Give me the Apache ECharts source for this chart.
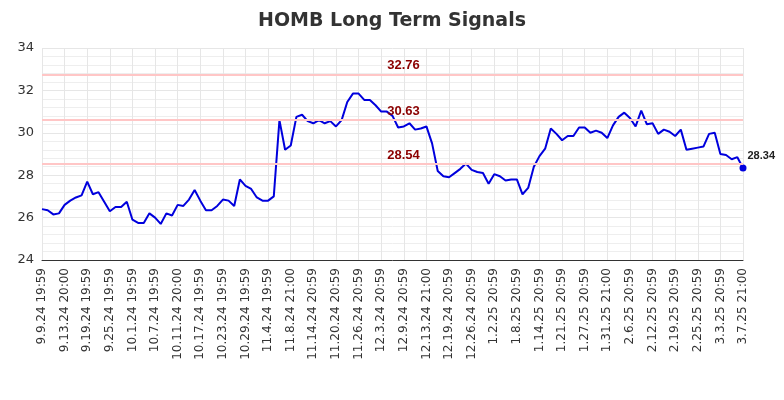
<!doctype html>
<meta charset="utf-8">
<style>
  html, body { margin: 0; padding: 0; width: 100%; height: 100%; }
  #chart { width: 784px; height: 400px; }
</style>
<script src="https://cdn.jsdelivr.net/npm/echarts@6/dist/echarts.min.js"></script>
<div id="chart"></div>
<script>
  const tickLabels = ['9.9.24 19:59','9.13.24 20:00','9.19.24 19:59','9.25.24 19:59','10.1.24 19:59','10.7.24 19:59','10.11.24 20:00','10.17.24 19:59','10.23.24 19:59','10.29.24 19:59','11.4.24 19:59','11.8.24 21:00','11.14.24 20:59','11.20.24 20:59','11.26.24 20:59','12.3.24 20:59','12.9.24 20:59','12.13.24 21:00','12.19.24 20:59','12.26.24 20:59','1.2.25 20:59','1.8.25 20:59','1.14.25 20:59','1.21.25 20:59','1.27.25 20:59','1.31.25 21:00','2.6.25 20:59','2.12.25 20:59','2.19.25 20:59','2.25.25 20:59','3.3.25 20:59','3.7.25 21:00'];
  const prices = [
    26.4,26.35,26.15,26.2, 26.6,26.8,26.95,27.05, 27.7,27.1,27.2,26.75, 26.3,26.5,26.5,26.75,
    25.9,25.75,25.75,26.2, 26.0,25.7,26.2,26.1, 26.6,26.55,26.85,27.3, 26.8,26.35,26.35,26.55,
    26.85,26.8,26.55,27.8, 27.5,27.35,26.95,26.8, 26.8,27.0,30.6,29.2, 29.4,30.75,30.85,30.55,
    30.45,30.6,30.45,30.55, 30.3,30.6,31.45,31.85, 31.85,31.55,31.55,31.3, 31.0,31.0,30.8,30.25,
    30.3,30.45,30.15,30.2, 30.3,29.5,28.2,27.95, 27.9,28.1,28.3,28.55, 28.25,28.15,28.1,27.6,
    28.05,27.95,27.75,27.8, 27.8,27.1,27.4,28.4, 28.9,29.25,30.2,29.95, 29.65,29.85,29.85,30.25,
    30.25,30.0,30.1,30.0, 29.75,30.35,30.75,30.95, 30.7,30.3,31.05,30.4, 30.45,29.95,30.15,30.05,
    29.85,30.15,29.2,29.25, 29.3,29.35,29.95,30.0, 29.0,28.95,28.75,28.85, 28.34
  ];
  const signals = [32.76, 30.63, 28.54];

  const cats = prices.map((p, i) => i % 4 === 0 ? tickLabels[i / 4] : 'p' + i);
  const last = prices.length - 1;

  let chart = echarts.init(document.getElementById('chart'));
  chart.setOption({
    animation: false,
    title: {
      text: 'HOMB Long Term Signals', left: 'center', top: 7,
      textStyle: { fontSize: 19, fontWeight: 'bold', color: '#333', fontFamily: 'DejaVu Sans' }
    },
    grid: { left: 42, right: 41, top: 48, bottom: 140 },
    xAxis: {
      type: 'category', data: cats, boundaryGap: false,
      axisLine: { lineStyle: { color: '#333' } },
      axisTick: { show: false },
      axisLabel: {
        interval: (i) => i % 4 === 0, rotate: 90, color: '#333', fontSize: 12,
        fontFamily: 'DejaVu Sans'
      },
      splitLine: { show: true, interval: (i) => i % 4 === 0, lineStyle: { color: '#e6e6e6' } }
    },
    yAxis: {
      type: 'value', min: 24, max: 34, interval: 2,
      axisLabel: { color: '#333', fontSize: 13, fontFamily: 'DejaVu Sans' },
      splitLine: { lineStyle: { color: '#e6e6e6' } },
      minorTick: { show: false },
      minorSplitLine: { show: true, lineStyle: { color: '#eeeeee' } }
    },
    series: [{
      type: 'line', data: prices.map((p, i) => i === last ? {
        value: p, symbol: 'circle', symbolSize: 7,
        label: { show: true, position: 'right', formatter: '28.34', fontWeight: 'bold', color: '#222', fontSize: 11, offset: [-4, -12] }
      } : p),
      showSymbol: true, symbol: 'none',
      lineStyle: { color: '#0000dd', width: 2 }, itemStyle: { color: '#0000dd' },
      markLine: {
        symbol: 'none', silent: true,
        lineStyle: { color: '#ffc6c6', type: 'solid', width: 2 },
        label: {
          position: 'middle', formatter: (p) => p.value.toFixed(2),
          color: '#8b0000', fontWeight: 'bold', fontSize: 13, distance: 2, offset: [11, 0]
        },
        data: signals.map(v => ({ yAxis: v }))
      }
    }]
  });
</script>
